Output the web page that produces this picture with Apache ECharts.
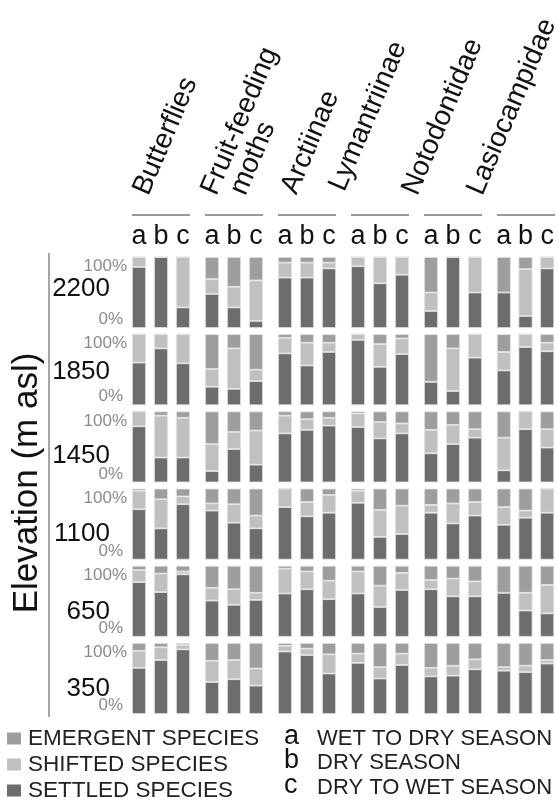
<!DOCTYPE html>
<html><head><meta charset="utf-8">
<script src="https://cdn.jsdelivr.net/npm/echarts@6/dist/echarts.min.js"></script>
<style>html,body{margin:0;padding:0;background:#fff}#c{width:558px;height:804px}</style>
</head><body><div id="c"></div><script>
// ---- data ----
const groups = ['Butterflies', 'Fruit-feeding', 'Arctiinae', 'Lymantriinae', 'Notodontidae', 'Lasiocampidae'];
const groupSecondLine = ['', 'moths', '', '', '', ''];
const periods = ['a', 'b', 'c'];
const periodNames = ['WET TO DRY SEASON', 'DRY SEASON', 'DRY TO WET SEASON'];
const elevations = ['2200', '1850', '1450', '1100', '650', '350'];
const yTicks = [0, 100];
const seriesNames = ['SETTLED SPECIES', 'SHIFTED SPECIES', 'EMERGENT SPECIES'];
// each row = one elevation; 18 values = 6 groups x (a,b,c)
const settled = [
  [86,100,29, 48,29,10, 71,71,84, 87,63,75, 24,100,50, 50,17,84],
  [60,80,59, 26,23,34, 73,56,75, 92,54,72, 33,20,67, 49,82,76],
  [79,35,35, 16,47,25, 69,74,80, 78,62,69, 41,54,63, 17,75,49],
  [71,44,78, 69,52,44, 74,61,66, 80,32,36, 66,51,62, 49,59,66],
  [77,63,88, 51,45,52, 61,67,53, 61,42,66, 67,57,57, 62,37,33],
  [65,76,91, 45,49,40, 88,83,57, 72,50,69, 53,54,63, 61,59,71]
];
const shifted = [
  [14,0,71, 21,29,57, 21,21,8, 13,37,25, 26,0,50, 0,66,16],
  [40,20,41, 25,57,16, 22,32,13, 8,32,22, 0,60,33, 26,18,12],
  [21,59,56, 38,24,48, 25,15,11, 19,23,14, 33,27,12, 46,25,26],
  [26,41,11, 10,26,18, 26,20,25, 17,38,40, 11,28,19, 25,10,34],
  [17,26,4, 18,22,10, 35,25,26, 31,30,24, 13,25,21, 0,25,40],
  [24,18,6, 30,27,24, 8,9,27, 13,16,16, 12,14,14, 5,9,5]
];
const emergent = [
  [0,0,0, 31,42,33, 8,8,8, 0,0,0, 50,0,0, 50,17,0],
  [0,0,0, 49,20,50, 5,12,12, 0,14,6, 67,20,0, 25,0,12],
  [0,6,9, 46,29,27, 6,11,9, 3,15,17, 26,19,25, 37,0,25],
  [3,15,11, 21,22,38, 0,19,9, 3,30,24, 23,21,19, 26,31,0],
  [6,11,8, 31,33,38, 4,8,21, 8,28,10, 20,18,22, 38,38,27],
  [11,6,3, 25,24,36, 4,8,16, 15,34,15, 35,32,23, 34,32,24]
];

// ---- styles / layout ----
const FONT = '"Liberation Sans", Arial, sans-serif';
const colors = {'SETTLED SPECIES': '#6d6d6d', 'SHIFTED SPECIES': '#c0c0c0', 'EMERGENT SPECIES': '#9e9e9e'};
const stacks = [settled, shifted, emergent];
const rowTop = r => 257 + r * 77.2;
const rowH = 71;
const groupLeft = g => 128 + g * 73;
const groupW = 66;
const elevShift = [-4, 2, 9, 10, 11, 10];

const grid = [], xAxis = [], yAxis = [], series = [], graphic = [];
for (let r = 0; r < elevations.length; r++) {
  for (let g = 0; g < groups.length; g++) {
    const gi = grid.length;
    grid.push({left: groupLeft(g), top: rowTop(r), width: groupW, height: rowH});
    xAxis.push({
      gridIndex: gi, type: 'category', data: periods, position: 'top', show: r === 0,
      axisLine: {show: false}, axisTick: {show: false},
      axisLabel: {fontSize: 27, color: '#111', fontFamily: FONT, margin: 7}
    });
    const yi = yAxis.length;
    yAxis.push({
      gridIndex: gi, type: 'value', position: 'left', min: yTicks[0], max: yTicks[1], interval: 100, show: g === 0, offset: 0,
      axisLine: {show: false}, axisTick: {show: false}, splitLine: {show: false},
      axisLabel: {formatter: v => v === yTicks[1] ? v + '%' : '', verticalAlign: 'top', padding: [1, 0, 0, 0],
        fontSize: 17, color: '#8a8a8a', fontFamily: FONT, margin: 1}
    });
    if (g === 0) {
      yAxis.push({
        gridIndex: gi, type: 'value', position: 'left', min: yTicks[0], max: yTicks[1], interval: 100, offset: 0,
        axisLine: {show: false}, axisTick: {show: false}, splitLine: {show: false},
        axisLabel: {formatter: v => v === yTicks[0] ? v + '%' : '', verticalAlign: 'bottom',
          fontSize: 17, color: '#8a8a8a', fontFamily: FONT, margin: 5}
      });
      graphic.push({type: 'text', x: 110, y: rowTop(r) + rowH / 2 + elevShift[r],
        style: {text: elevations[r], fontSize: 26, fontFamily: FONT, fill: '#111', align: 'right', verticalAlign: 'middle'}});
    }
    seriesNames.forEach((name, k) => {
      series.push({
        type: 'bar', name, stack: 'st' + gi, xAxisIndex: gi, yAxisIndex: yi, barWidth: 14,
        data: stacks[k][r].slice(g * 3, g * 3 + 3),
        itemStyle: {color: colors[name], borderColor: '#e4e4e4', borderWidth: 0.8},
        emphasis: {disabled: true}, animation: false
      });
    });
  }
}

// header: group names, lines
const nameAnchors = [[154, 199], [222, 199], [302, 198], [350, 195], [423, 199], [488, 199]];
const rot = 67 * Math.PI / 180;
groups.forEach((name, g) => {
  graphic.push({type: 'text', x: nameAnchors[g][0], y: nameAnchors[g][1], rotation: rot,
    style: {text: name, fontSize: 28, fontFamily: FONT, fill: '#111', align: 'left', verticalAlign: 'bottom'}});
  if (groupSecondLine[g]) {
    graphic.push({type: 'text', x: nameAnchors[g][0] + 29, y: nameAnchors[g][1], rotation: rot,
      style: {text: groupSecondLine[g], fontSize: 28, fontFamily: FONT, fill: '#111', align: 'left', verticalAlign: 'bottom'}});
  }
  graphic.push({type: 'line', shape: {x1: groupLeft(g) + 4, y1: 215, x2: groupLeft(g) + 62, y2: 215},
    style: {stroke: '#777', lineWidth: 1.5}});
});
// left axis line + title
graphic.push({type: 'line', shape: {x1: 49, y1: 253, x2: 49, y2: 717}, style: {stroke: '#888', lineWidth: 1.5}});
graphic.push({type: 'text', x: 27, y: 483, rotation: Math.PI / 2,
  style: {text: 'Elevation (m asl)', fontSize: 35, fontFamily: FONT, fill: '#111', align: 'center', verticalAlign: 'middle'}});
// period key
const keyY = [739, 763, 788];
periods.forEach((p, i) => {
  graphic.push({type: 'text', x: 284, y: keyY[i] - 2, style: {text: p, fontSize: 27, fontFamily: FONT, fill: '#111', align: 'left', verticalAlign: 'middle'}});
  graphic.push({type: 'text', x: 317, y: keyY[i], style: {text: periodNames[i], fontSize: 22, fontFamily: FONT, fill: '#222', align: 'left', verticalAlign: 'middle'}});
});

const chart = echarts.init(document.getElementById('c'), null, {renderer: 'canvas'});
chart.setOption({
  animation: false,
  backgroundColor: '#fff',
  grid, xAxis, yAxis, series, graphic,
  legend: {
    data: ['EMERGENT SPECIES', 'SHIFTED SPECIES', 'SETTLED SPECIES'],
    orient: 'vertical', left: 7, top: 727, height: 90, padding: 0, itemWidth: 14, itemHeight: 12, itemGap: 3,
    icon: 'rect', selectedMode: false,
    itemStyle: {borderWidth: 0},
    textStyle: {fontSize: 22.5, color: '#222', fontFamily: FONT, padding: [0, 0, 0, 2]}
  }
});
</script></body></html>
